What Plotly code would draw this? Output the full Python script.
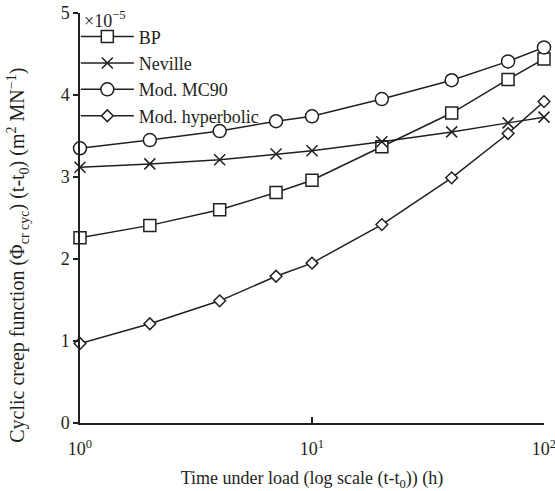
import plotly.graph_objects as go

# Time under load (h), log-spaced sampling
time_h = [1, 2, 4, 7, 10, 20, 40, 70, 100]

# Cyclic creep function values (x 1e-5 m^2/MN)
bp = [2.26, 2.41, 2.60, 2.81, 2.96, 3.37, 3.78, 4.19, 4.44]
neville = [3.12, 3.16, 3.21, 3.28, 3.32, 3.43, 3.55, 3.66, 3.73]
mc90 = [3.35, 3.45, 3.56, 3.68, 3.74, 3.95, 4.18, 4.41, 4.58]
hyperbolic = [0.97, 1.21, 1.49, 1.79, 1.95, 2.42, 2.99, 3.53, 3.92]

series_names = ["BP", "Neville", "Mod. MC90", "Mod. hyperbolic"]
series_values = [bp, neville, mc90, hyperbolic]
symbols = ["square", "x-thin", "circle", "diamond"]
sizes = [12, 11, 13, 9]

x_tick_vals = [1, 10, 100]
x_tick_text = ["10<sup>0</sup>", "10<sup>1</sup>", "10<sup>2</sup>"]
y_tick_vals = [0, 1, 2, 3, 4, 5]

ink = "#231f20"
font_family = "Liberation Serif, Times New Roman, serif"

fig = go.Figure()
for name, vals, sym, sz in zip(series_names, series_values, symbols, sizes):
    fig.add_trace(go.Scatter(
        x=time_h, y=vals, name=name, mode="lines+markers",
        cliponaxis=False,
        line=dict(color=ink, width=1.5),
        marker=dict(symbol=sym, size=sz, color="white",
                    line=dict(color=ink, width=1.5)),
    ))

fig.update_layout(
    width=555, height=491,
    margin=dict(l=80, r=11, t=13, b=68, autoexpand=False),
    paper_bgcolor="white", plot_bgcolor="white",
    font=dict(family=font_family, size=18, color=ink),
    showlegend=True,
    legend=dict(x=-0.009, y=0.987, xanchor="left", yanchor="top",
                bgcolor="rgba(0,0,0,0)", font=dict(size=18),
                itemwidth=53, tracegroupgap=0, traceorder="normal"),
    xaxis=dict(
        type="log", range=[0, 2], automargin=False,
        tickvals=x_tick_vals, ticktext=x_tick_text,
        ticks="inside", ticklen=6, tickwidth=1.5, tickcolor=ink,
        ticklabelstandoff=9, ticklabeloverflow="allow",
        showline=True, linecolor=ink, linewidth=1.5,
        showgrid=False, zeroline=False,
        title=dict(text="Time under load (log scale (t-t<sub>0</sub>)) (h)",
                   font=dict(size=18), standoff=14),
    ),
    yaxis=dict(
        range=[0, 5], tickvals=y_tick_vals, automargin=False,
        ticks="outside", ticklen=5, tickwidth=1.5, tickcolor=ink,
        showline=True, linecolor=ink, linewidth=1.5,
        showgrid=False, zeroline=False,
    ),
    annotations=[
        dict(text="×10<sup>−5</sup>", xref="paper", yref="paper",
             x=0.004, y=0.983, xanchor="left", yanchor="middle",
             showarrow=False, font=dict(size=18, color=ink)),
        dict(text="Cyclic creep function (Φ<sub>cr cyc</sub>) (t-t<sub>0</sub>) (m<sup>2</sup> MN<sup>−1</sup>)",
             xref="paper", yref="paper", x=-0.134, y=0.41,
             xanchor="center", yanchor="middle", textangle=-90,
             showarrow=False, font=dict(size=20, color=ink)),
    ],
)

fig.write_html("out.html")
